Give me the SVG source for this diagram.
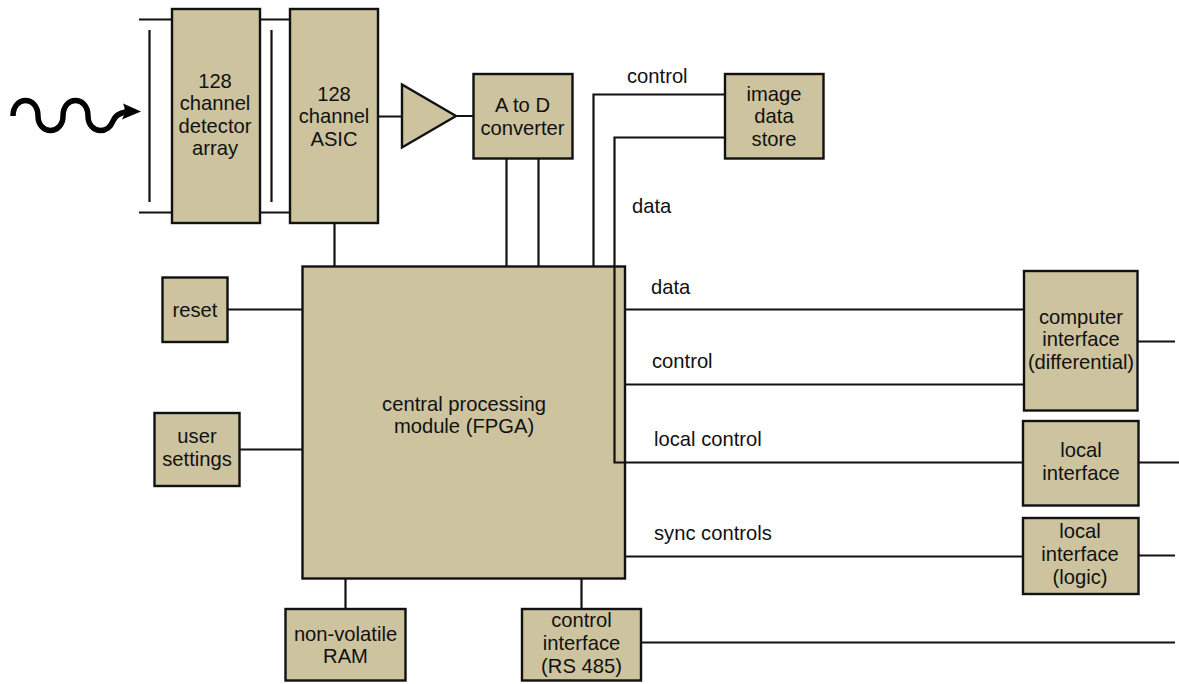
<svg xmlns="http://www.w3.org/2000/svg" width="1179" height="684" viewBox="0 0 1179 684">
<style>
.b{fill:#cdc39f;stroke:#111;stroke-width:2.4}
.c{fill:none;stroke:#111;stroke-width:2.2}
text{font-family:"Liberation Sans",Arial,sans-serif;font-size:20.2px;fill:#111;text-anchor:middle}
.l{text-anchor:start}
</style>
<rect width="1179" height="684" fill="#fff"/>
<g id="connectors">
<path class="c" d="M139 19.500H172M139 212.500H172M149.500 30V202M260 19.500H290M260 212.500H290M271.500 30V202"/>
<path class="c" d="M334.500 223V267M378 116.500H402M457 116H474M506.500 158V267M538.500 158V267"/>
<path class="c" d="M593.500 267V94.500H725M614.500 267V137.500H725"/>
<path class="c" d="M625 309.500H1024M625 384.500H1024M625 462.500H1023M625 556.500H1023"/>
<path class="c" d="M1138 341.500H1175M1139 462.500H1179M1139 555.500H1175M641 642.500H1175"/>
<path class="c" d="M228 309.500H303M240 449.500H303M345.500 578V609M581.500 578V609"/>
<path d="M13 116C13 106 19 100.500 25.500 100.500C32 100.500 38 106 38 116C38 125 44 130.500 50.500 130.500C57 130.500 63 125 63 116C63 106 69 100.500 75.500 100.500C82 100.500 88 106 88 116C88 125 94 130.500 100.500 130.500C107 130.500 111 126 113 121C115 116 119 113 126 112" fill="none" stroke="#000" stroke-width="5.500"/>
</g>
<g id="detector"><rect class="b" x="172" y="9" width="88" height="214"/><text x="215" y="88">128</text><text x="215" y="110">channel</text><text x="215" y="133">detector</text><text x="215" y="155">array</text></g>
<g id="asic"><rect class="b" x="290" y="9" width="88" height="214"/><text x="334" y="101">128</text><text x="334" y="123">channel</text><text x="334" y="146">ASIC</text></g>
<g id="amp"><path class="b" d="M402 84.500L456 116L402 147.500Z"/></g>
<g id="adc"><rect class="b" x="473.500" y="74" width="99" height="84.500"/><text x="522.500" y="112">A to D</text><text x="522.500" y="135">converter</text></g>
<g id="store"><rect class="b" x="725" y="74" width="98.500" height="84.500"/><text x="774" y="101">image</text><text x="774" y="123">data</text><text x="774" y="146">store</text></g>
<g id="cpu"><rect class="b" x="302.500" y="266.500" width="322.500" height="312"/><text x="464" y="411">central processing</text><text x="464" y="433">module (FPGA)</text>
<path d="M614.500 266V462.500H626" fill="none" stroke="#111" stroke-width="2.2"/></g>
<g id="reset"><rect class="b" x="162.500" y="277.500" width="65" height="64.500"/><text x="195" y="317">reset</text></g>
<g id="settings"><rect class="b" x="154.500" y="413" width="85" height="73"/><text x="197" y="443">user</text><text x="197" y="466">settings</text></g>
<g id="ram"><rect class="b" x="285.500" y="609" width="120" height="71.500"/><text x="345.500" y="641">non-volatile</text><text x="345.500" y="663">RAM</text></g>
<g id="control-if"><rect class="b" x="522" y="609" width="119" height="71.500"/><text x="581.500" y="627">control</text><text x="581.500" y="650">interface</text><text x="581.500" y="673">(RS 485)</text></g>
<g id="computer-if"><rect class="b" x="1024" y="271" width="113.500" height="139.500"/><text x="1081" y="324">computer</text><text x="1081" y="346">interface</text><text x="1081" y="369">(differential)</text></g>
<g id="local-if"><rect class="b" x="1023" y="421" width="115.500" height="84.500"/><text x="1081" y="457">local</text><text x="1081" y="480">interface</text></g>
<g id="logic-if"><rect class="b" x="1023" y="518" width="115.500" height="76"/><text x="1080" y="538">local</text><text x="1080" y="561">interface</text><text x="1080" y="584">(logic)</text></g>
<g id="labels">
<text class="l" x="627" y="83">control</text><text class="l" x="632" y="213">data</text><text class="l" x="651" y="294">data</text><text class="l" x="652" y="368">control</text><text class="l" x="654" y="446">local control</text><text class="l" x="654" y="540">sync controls</text>
</g>
<path id="wave-head" d="M123 103.500L141 111.500L122 119.500Q127 111 123 103.500Z" fill="#000"/>
</svg>
